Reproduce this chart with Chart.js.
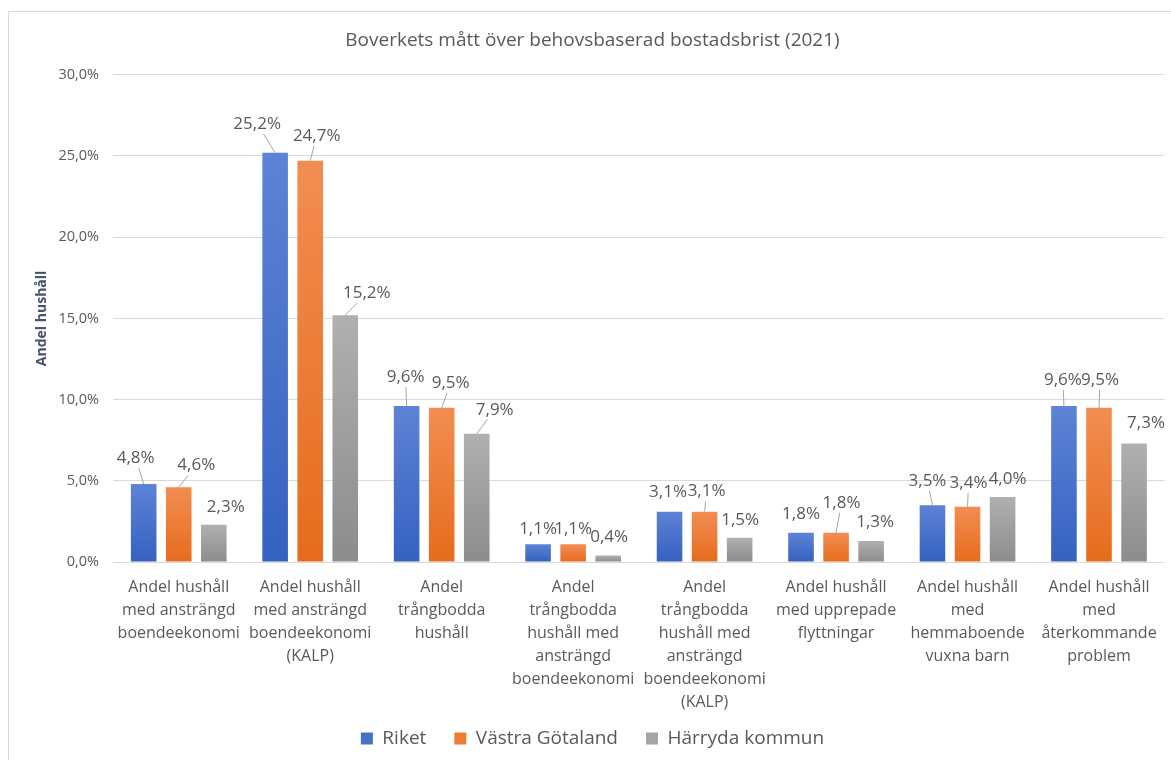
<!DOCTYPE html>
<html>
<head>
<meta charset="utf-8">
<script src="https://cdn.jsdelivr.net/npm/chart.js@4.4.1/dist/chart.umd.min.js"></script>
<style>
  html, body { margin: 0; padding: 0; background: #ffffff; }
  #wrap { width: 1171px; height: 760px; position: relative; }
</style>
</head>
<body>
<div id="wrap"><canvas id="c" width="1171" height="760"></canvas></div>
<script>
// ---- Data ----
const categories = [
  ["Andel hushåll", "med ansträngd", "boendeekonomi"],
  ["Andel hushåll", "med ansträngd", "boendeekonomi", "(KALP)"],
  ["Andel", "trångbodda", "hushåll"],
  ["Andel", "trångbodda", "hushåll med", "ansträngd", "boendeekonomi"],
  ["Andel", "trångbodda", "hushåll med", "ansträngd", "boendeekonomi", "(KALP)"],
  ["Andel hushåll", "med upprepade", "flyttningar"],
  ["Andel hushåll", "med", "hemmaboende", "vuxna barn"],
  ["Andel hushåll", "med", "återkommande", "problem"]
];
const seriesNames = ["Riket", "Västra Götaland", "Härryda kommun"];
const riket   = [4.8, 25.2, 9.6, 1.1, 3.1, 1.8, 3.5, 9.6];
const vastra  = [4.6, 24.7, 9.5, 1.1, 3.1, 1.8, 3.4, 9.5];
const harryda = [2.3, 15.2, 7.9, 0.4, 1.5, 1.3, 4.0, 7.3];
const yMin = 0, yMax = 30, yStep = 5;

// ---- Label placement (relative to bar top centre) ----
const labelOffsets = [
  [[-8,-26], [-18,-29], [-1,-29], [0,-15], [-1.5,-19], [0,-19], [-5,-24], [-1,-26]],
  [[17.5,-22], [6.5,-25], [9,-25], [0,-15], [2,-20], [5.5,-30], [1,-24], [1,-28]],
  [[12,-17], [21.5,-22], [18,-24], [1,-18], [0.5,-17], [4,-19], [5,-18], [12,-20]]
];
const leaderFlags = [
  [1,1,1,0,0,0,1,1],
  [1,1,1,0,1,1,1,1],
  [0,1,1,0,0,0,0,0]
];

const FONT = "'Open Sans', 'DejaVu Sans', sans-serif";
const TXT = '#595959';
const colorsTop = ['#5d83d6', '#f28d52', '#b0b0b0'];
const colorsBottom = ['#3561c0', '#e66c1c', '#8c8c8c'];
const colorsSolid = ['#4472c4', '#ed7d31', '#a5a5a5'];

function fmt(v) { return v.toFixed(1).replace('.', ',') + '%'; }

function barGradient(i) {
  return function(ctx) {
    const chart = ctx.chart;
    const y = chart.scales && chart.scales.y;
    if (!chart.chartArea || !y || ctx.raw === undefined) return colorsSolid[i];
    const top = y.getPixelForValue(ctx.raw);
    const bottom = y.getPixelForValue(0);
    if (!isFinite(top) || !isFinite(bottom) || bottom - top < 1) return colorsSolid[i];
    const g = chart.ctx.createLinearGradient(0, top, 0, bottom);
    g.addColorStop(0, colorsTop[i]);
    g.addColorStop(1, colorsBottom[i]);
    return g;
  };
}

const frame = {
  id: 'frame',
  beforeDraw(chart) {
    const c = chart.ctx;
    c.save();
    c.fillStyle = '#ffffff';
    c.fillRect(0, 0, chart.width, chart.height);
    c.strokeStyle = '#d9d9d9';
    c.lineWidth = 1;
    c.strokeRect(8.5, 11.5, chart.width - 8, chart.height - 11);
    c.restore();
  }
};

const valueLabels = {
  id: 'valueLabels',
  afterDatasetsDraw(chart) {
    const c = chart.ctx;
    c.save();
    c.font = "17px " + FONT;
    c.textAlign = 'center';
    c.textBaseline = 'middle';
    chart.data.datasets.forEach((ds, i) => {
      const meta = chart.getDatasetMeta(i);
      meta.data.forEach((bar, j) => {
        const off = labelOffsets[i][j];
        const lx = bar.x + off[0];
        const ly = bar.y + off[1];
        const text = fmt(ds.data[j]);
        c.fillStyle = TXT;
        c.fillText(text, lx, ly);
        if (leaderFlags[i][j]) {
          const ax = bar.x, ay = bar.y;
          const dx = ax - lx, dy = ay - ly;
          const hw = c.measureText(text).width / 2 + 2, hh = 10;
          const t = Math.min(dx !== 0 ? hw / Math.abs(dx) : Infinity, dy !== 0 ? hh / Math.abs(dy) : Infinity);
          const sx = lx + dx * t, sy = ly + dy * t;
          if (Math.hypot(ax - sx, ay - sy) > 3) {
            c.strokeStyle = '#a6a6a6';
            c.lineWidth = 1;
            c.beginPath();
            c.moveTo(sx, sy);
            c.lineTo(ax, ay);
            c.stroke();
          }
        }
      });
    });
    c.restore();
  }
};

const seriesData = [riket, vastra, harryda];
new Chart(document.getElementById('c'), {
  type: 'bar',
  data: {
    labels: categories,
    datasets: seriesData.map((d, i) => ({
      label: seriesNames[i],
      data: d,
      backgroundColor: barGradient(i),
      borderWidth: 0,
      categoryPercentage: 0.8,
      barPercentage: 0.73
    }))
  },
  options: {
    responsive: false,
    animation: false,
    devicePixelRatio: 1,
    layout: { padding: { left: 20, right: 6, top: 11, bottom: 2 } },
    plugins: {
      title: {
        display: true,
        text: 'Boverkets mått över behovsbaserad bostadsbrist (2021)',
        color: TXT,
        font: { family: FONT, size: 19, weight: 'normal' },
        padding: { top: 18, bottom: 23 }
      },
      legend: {
        position: 'bottom',
        labels: {
          color: TXT,
          font: { family: FONT, size: 19 },
          boxWidth: 12,
          boxHeight: 12,
          padding: 28,
          generateLabels(chart) {
            return chart.data.datasets.map((ds, i) => ({
              text: ds.label,
              fillStyle: colorsSolid[i],
              strokeStyle: colorsSolid[i],
              lineWidth: 0,
              datasetIndex: i,
              fontColor: TXT
            }));
          }
        }
      },
      tooltip: { enabled: false }
    },
    scales: {
      x: {
        grid: { display: false, drawTicks: false },
        border: { display: false },
        ticks: {
          color: TXT,
          font: { family: FONT, size: 16, lineHeight: 1.44 },
          padding: 14,
          maxRotation: 0,
          autoSkip: false
        },
        afterFit(scale) {
          scale.height = 139;
          scale._computeLabelArea = () => undefined;
        }
      },
      y: {
        min: yMin,
        max: yMax,
        ticks: {
          stepSize: yStep,
          color: TXT,
          font: { family: FONT, size: 14.5 },
          padding: 14,
          callback: (v) => fmt(v)
        },
        grid: { color: '#d9d9d9', drawTicks: false },
        border: { display: false },
        title: {
          display: true,
          text: 'Andel hushåll',
          color: '#44546a',
          font: { family: FONT, size: 14, weight: 'bold' },
          padding: { top: 13.5, bottom: 4 }
        },
        afterFit(scale) { scale.width = 93; }
      }
    }
  },
  plugins: [frame, valueLabels]
});
</script>
</body>
</html>
